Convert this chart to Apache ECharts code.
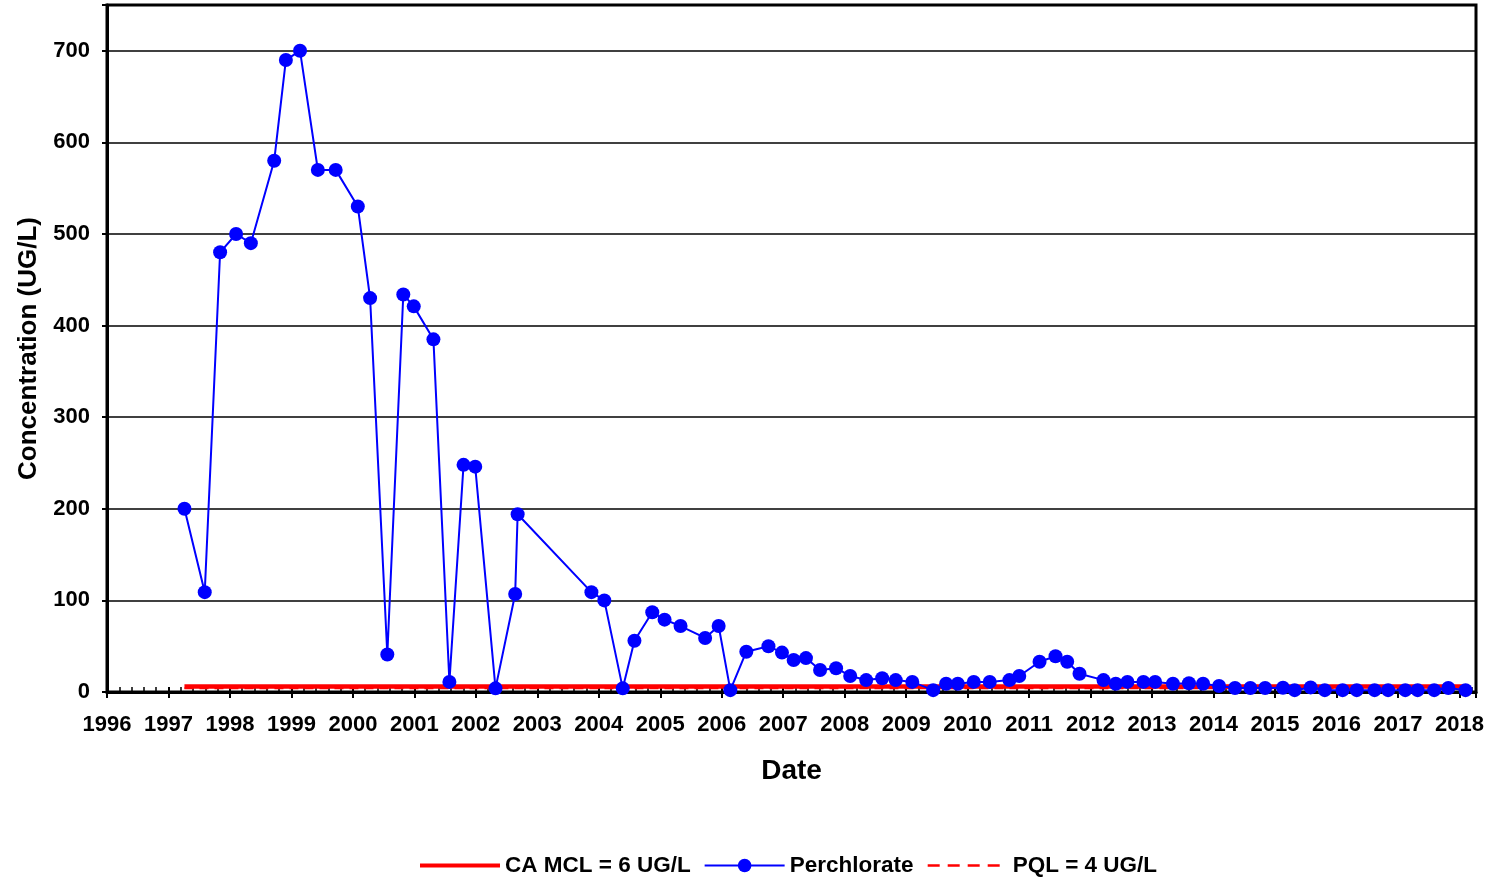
<!DOCTYPE html>
<html>
<head>
<meta charset="utf-8">
<script src="https://cdn.jsdelivr.net/npm/echarts@6/dist/echarts.min.js"></script>
<style>
html,body{margin:0;padding:0;background:#fff;}
#chart{width:1490px;height:882px;}
</style>
</head>
<body>
<div id="chart"></div>
<script>
// Sample dates (decimal years) and perchlorate concentrations (UG/L)
const sampleYears = [
  1997.26, 1997.59, 1997.84, 1998.10, 1998.34, 1998.72, 1998.91, 1999.14, 1999.43, 1999.72,
  2000.08, 2000.28, 2000.56, 2000.82, 2000.99, 2001.31, 2001.57, 2001.80, 2001.99, 2002.32,
  2002.64, 2002.68, 2003.88, 2004.09, 2004.39, 2004.58, 2004.87, 2005.07, 2005.33, 2005.73,
  2005.95, 2006.14, 2006.40, 2006.76, 2006.98, 2007.17, 2007.37, 2007.60, 2007.86, 2008.09,
  2008.35, 2008.61, 2008.83, 2009.10, 2009.44, 2009.65, 2009.84, 2010.10, 2010.36, 2010.68,
  2010.84, 2011.17, 2011.43, 2011.62, 2011.82, 2012.21, 2012.41, 2012.60, 2012.86, 2013.05,
  2013.34, 2013.60, 2013.83, 2014.09, 2014.35, 2014.60, 2014.84, 2015.13, 2015.32, 2015.58,
  2015.81, 2016.10, 2016.33, 2016.62, 2016.84, 2017.12, 2017.32, 2017.59, 2017.82, 2018.10
];
const perchlorate = [
  200, 109, 480, 500, 490, 580, 690, 700, 570, 570,
  530, 430, 41, 434, 421, 385, 11, 248, 246, 4,
  107, 194, 109, 100, 4, 56, 87, 79, 72, 59,
  72, 2, 44, 50, 43, 35, 37, 24, 26, 17.5,
  13, 15, 13, 11, 2, 9, 9, 11, 11, 13,
  17.5, 33, 39, 33, 20, 13, 9, 11, 11, 11,
  9, 9.5, 9, 6.5, 4.4, 4.4, 4.4, 4.7, 2, 5,
  2, 2, 2, 2, 2, 2, 2, 2, 4.4, 2
];
// Reference limits
const mclYears = [1997.26, 2018.10];
const mclValues = [6, 6];
const pqlYears = [1997.26, 2018.10];
const pqlValues = [4, 4];
// Axis settings
const xMin = 1996, xMax = 2018.27, xStep = 1;
const yMin = 0, yMax = 750, yStep = 100, yLabelMax = 700;
const seriesNames = ['CA MCL = 6 UG/L', 'Perchlorate', 'PQL = 4 UG/L'];

const pairs = (xs, ys) => xs.map((x, i) => [x, ys[i]]);
const FONT = "'Liberation Sans', Arial, sans-serif";

const chart = echarts.init(document.getElementById('chart'), null, {renderer: 'canvas'});
const yearLabel = v => (Math.abs(v - Math.round(v)) < 1e-6 ? String(Math.round(v)) : '');

chart.setOption({
  animation: false,
  backgroundColor: '#ffffff',
  grid: {
    left: 107, right: 14, top: 5, bottom: 190,
    show: true, borderColor: '#000', borderWidth: 3, backgroundColor: 'transparent'
  },
  legend: {
    data: [
      {name: seriesNames[0], itemStyle: {opacity: 0}, lineStyle: {width: 4, color: '#ff0000'}},
      {name: seriesNames[1]},
      {name: seriesNames[2], itemStyle: {opacity: 0}, lineStyle: {width: 2.5, color: '#ff0000', type: [12, 8]}}
    ],
    top: 849,
    left: 413,
    itemWidth: 80,
    itemHeight: 17,
    itemGap: 13,
    textStyle: {fontFamily: FONT, fontWeight: 'bold', fontSize: 22.5, color: '#000'}
  },
  xAxis: [{
    type: 'value', min: xMin, max: xMax, interval: xStep,
    name: 'Date', nameLocation: 'middle', nameGap: 65,
    nameTextStyle: {fontFamily: FONT, fontWeight: 'bold', fontSize: 28, color: '#000'},
    axisLine: {show: true, onZero: false, lineStyle: {color: '#000', width: 3}},
    axisTick: {show: true, inside: false, length: 6, lineStyle: {color: '#000', width: 2}},
    axisLabel: {formatter: yearLabel, margin: 22, fontFamily: FONT, fontWeight: 'bold', fontSize: 22, color: '#000'},
    splitLine: {show: false}
  }, {
    type: 'value', min: xMin, max: xMax, interval: xStep, position: 'bottom', gridIndex: 0,
    axisLine: {show: false, onZero: false},
    axisTick: {show: true, inside: true, length: 5, lineStyle: {color: '#000', width: 2}},
    minorTick: {show: true, splitNumber: 5, length: 5, lineStyle: {color: '#000', width: 1.5}},
    axisLabel: {show: false},
    splitLine: {show: false}
  }],
  yAxis: {
    type: 'value', min: yMin, max: yMax, interval: yStep,
    name: 'Concentration (UG/L)', nameLocation: 'middle', nameGap: 65,
    nameTextStyle: {fontFamily: FONT, fontWeight: 'bold', fontSize: 26, color: '#000'},
    axisLine: {show: true, onZero: false, lineStyle: {color: '#000', width: 3}},
    axisTick: {show: true, inside: false, length: 5, lineStyle: {color: '#000', width: 2}},
    axisLabel: {
      formatter: v => (v > yLabelMax ? '' : String(v)),
      margin: 17, fontFamily: FONT, fontWeight: 'bold', fontSize: 22, color: '#000'
    },
    splitLine: {show: true, lineStyle: {color: '#000', width: 1.6}}
  },
  series: [{
    name: seriesNames[0], type: 'line', xAxisIndex: 0,
    data: pairs(mclYears, mclValues),
    symbol: 'none', z: 2,
    lineStyle: {color: '#ff0000', width: 4.5},
    itemStyle: {color: '#ff0000', opacity: 0}
  }, {
    name: seriesNames[2], type: 'line', xAxisIndex: 0,
    data: pairs(pqlYears, pqlValues),
    symbol: 'none', z: 3,
    lineStyle: {color: '#ff0000', width: 2, type: [9, 6]},
    itemStyle: {color: '#ff0000', opacity: 0}
  }, {
    name: seriesNames[1], type: 'line', xAxisIndex: 0,
    data: pairs(sampleYears, perchlorate),
    symbol: 'circle', symbolSize: 14, showAllSymbol: true, z: 4,
    lineStyle: {color: '#0000ff', width: 2},
    itemStyle: {color: '#0000ff'}
  }]
});
</script>
</body>
</html>
